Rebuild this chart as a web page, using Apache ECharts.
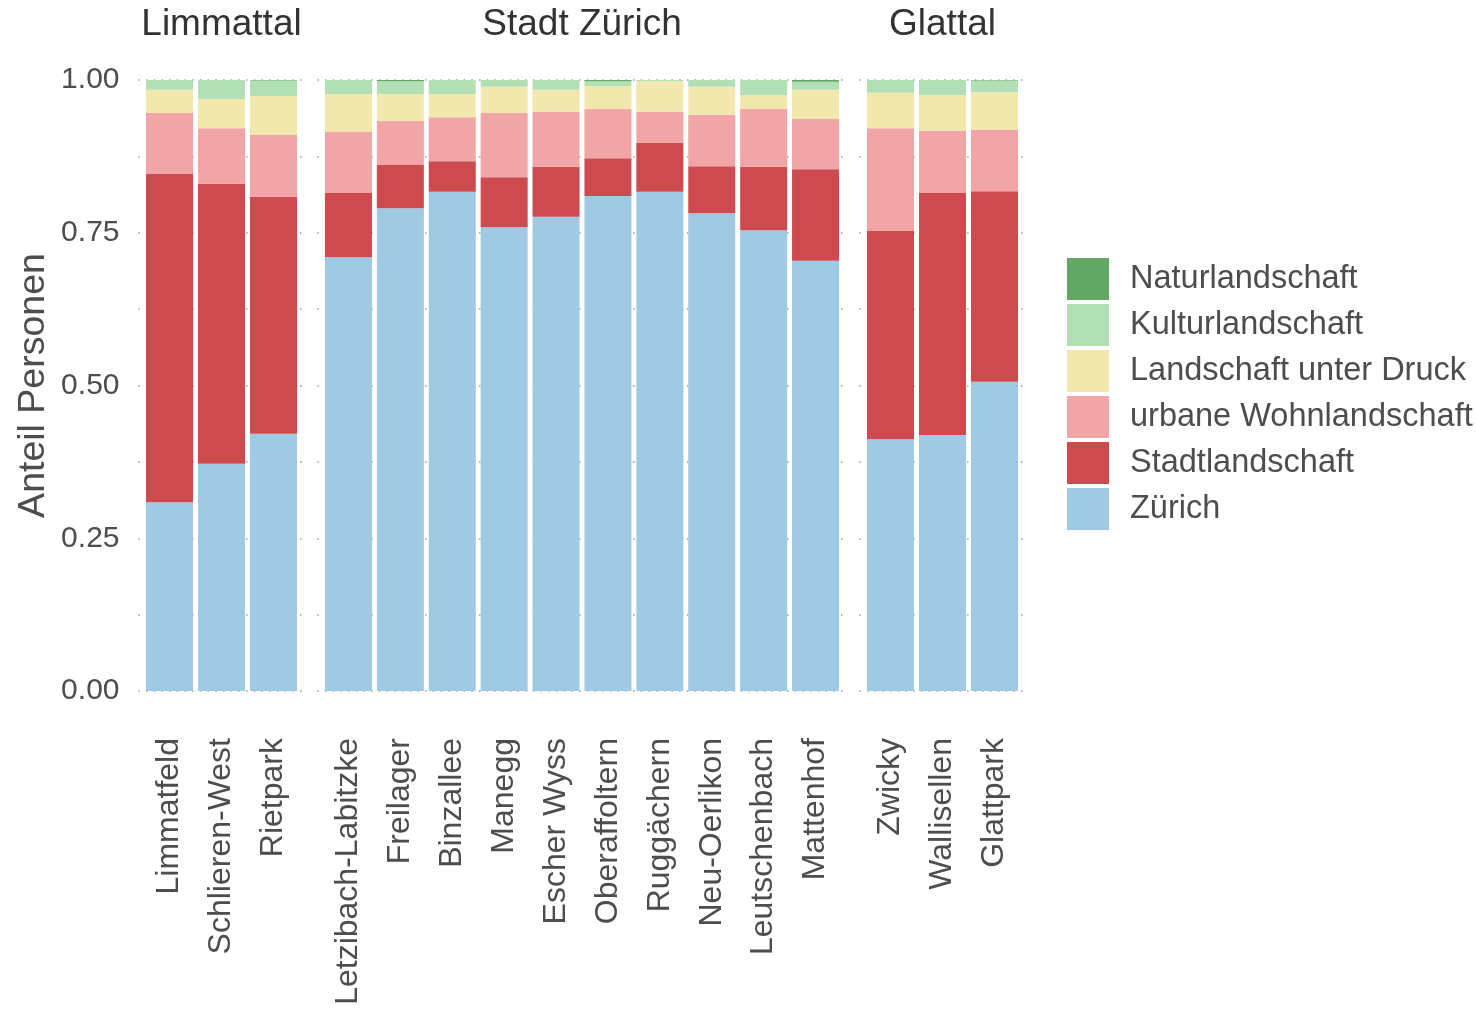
<!DOCTYPE html>
<html>
<head>
<meta charset="utf-8">
<script src="https://cdn.jsdelivr.net/npm/echarts@6/dist/echarts.min.js"></script>
<style>
  html, body { margin: 0; padding: 0; background: #fff; }
  #chart { width: 1476px; height: 1011px; }
</style>
</head>
<body>
<div id="chart"></div>
<script>
// Quartiere, in Reihenfolge der Panels
var quartiere = ['Limmatfeld', 'Schlieren-West', 'Rietpark',
  'Letzibach-Labitzke', 'Freilager', 'Binzallee', 'Manegg', 'Escher Wyss',
  'Oberaffoltern', 'Ruggächern', 'Neu-Oerlikon', 'Leutschenbach', 'Mattenhof',
  'Zwicky', 'Wallisellen', 'Glattpark'];
var regionen = ['Limmattal', 'Stadt Zürich', 'Glattal'];
var regionAnzahl = [3, 10, 3];

// Anteile pro Landschaftstyp (gestapelt, von unten nach oben)
var zuerich        = [0.309, 0.372, 0.421, 0.710, 0.790, 0.817, 0.759, 0.776, 0.810, 0.817, 0.782, 0.754, 0.704, 0.412, 0.419, 0.506];
var stadtlandschaft = [0.537, 0.458, 0.388, 0.105, 0.071, 0.050, 0.082, 0.082, 0.062, 0.080, 0.077, 0.104, 0.150, 0.341, 0.396, 0.312];
var urbaneWohn     = [0.100, 0.091, 0.101, 0.100, 0.072, 0.072, 0.105, 0.090, 0.081, 0.051, 0.084, 0.095, 0.082, 0.168, 0.102, 0.100];
var unterDruck     = [0.038, 0.048, 0.064, 0.062, 0.044, 0.038, 0.043, 0.036, 0.037, 0.050, 0.046, 0.022, 0.048, 0.058, 0.058, 0.062];
var kultur         = [0.016, 0.031, 0.025, 0.023, 0.021, 0.023, 0.011, 0.016, 0.008, 0.002, 0.011, 0.025, 0.013, 0.021, 0.025, 0.019];
var natur          = [0.000, 0.000, 0.001, 0.000, 0.002, 0.000, 0.000, 0.000, 0.002, 0.000, 0.000, 0.000, 0.003, 0.000, 0.000, 0.001];

var yTicks = [0, 0.25, 0.5, 0.75, 1];

var typen = [
  { name: 'Zürich', data: zuerich, color: '#a0cae3' },
  { name: 'Stadtlandschaft', data: stadtlandschaft, color: '#cd4a4f' },
  { name: 'urbane Wohnlandschaft', data: urbaneWohn, color: '#f2a5a7' },
  { name: 'Landschaft unter Druck', data: unterDruck, color: '#f2e8ad' },
  { name: 'Kulturlandschaft', data: kultur, color: '#b3dfb7' },
  { name: 'Naturlandschaft', data: natur, color: '#62a865' }
];

var chart = echarts.init(document.getElementById('chart'));
var font = 'Liberation Sans, Arial, sans-serif';
var grau = '#4d4d4d';

// Panel-Geometrie (Pixel)
var band = [52, 51.9, 52];
var barLeft = [143.5, 322.5, 864.5];
var gridTop = 80, gridHeight = 611;

var grids = [], xAxes = [], yAxes = [], series = [], graphics = [];
var start = 0;
for (let p = 0; p < 3; p++) {
  let n = regionAnzahl[p];
  let w = n * band[p];
  let pad = 0.1 * band[p];
  // Hintergrund-Grid nur fuer die gepunkteten Linien
  grids.push({ left: barLeft[p] - pad, width: w + 2 * pad, top: gridTop, height: gridHeight });
  xAxes.push({ type: 'value', gridIndex: 2 * p, min: 0, max: 1, show: false });
  yAxes.push({
    type: 'value', gridIndex: 2 * p, min: 0, max: 1, interval: 0.125,
    axisLine: { show: false }, axisTick: { show: false }, axisLabel: { show: false },
    splitLine: { lineStyle: { type: [1.5, 6.2], color: '#9a9a9a', width: 1.5 } }
  });
  // Balken-Grid
  grids.push({ left: barLeft[p], width: w, top: gridTop, height: gridHeight });
  xAxes.push({
    type: 'category', gridIndex: 2 * p + 1, data: quartiere.slice(start, start + n),
    axisLine: { show: false }, axisTick: { show: false },
    axisLabel: { rotate: 90, margin: 47, interval: 0, color: grau, fontSize: 32, fontFamily: font }
  });
  yAxes.push({
    type: 'value', gridIndex: 2 * p + 1, min: 0, max: 1, interval: 0.25,
    axisLine: { show: false }, axisTick: { show: false }, splitLine: { show: false },
    axisLabel: p === 0 ? {
      color: grau, fontSize: 30, fontFamily: font, margin: 24,
      formatter: function (v) { return yTicks.indexOf(v) >= 0 ? v.toFixed(2) : ''; }
    } : { show: false },
    name: p === 0 ? 'Anteil Personen' : '',
    nameLocation: 'middle', nameGap: 91, nameRotate: 90,
    nameTextStyle: { color: grau, fontSize: 37.5, fontFamily: font }
  });
  typen.forEach(function (t) {
    series.push({
      name: t.name, type: 'bar', stack: 'r' + p,
      xAxisIndex: 2 * p + 1, yAxisIndex: 2 * p + 1,
      barWidth: 47, data: t.data.slice(start, start + n),
      itemStyle: { color: t.color }, emphasis: { disabled: true }
    });
  });
  graphics.push({
    type: 'text', x: barLeft[p] + w / 2, y: 25,
    style: { text: regionen[p], fontSize: 37, fontFamily: font, fill: '#333',
      textAlign: 'center', textVerticalAlign: 'middle' }
  });
  start += n;
}

chart.setOption({
  animation: false,
  grid: grids,
  xAxis: xAxes,
  yAxis: yAxes,
  series: series,
  graphic: graphics,
  legend: {
    orient: 'vertical', left: 1062, top: 253,
    data: typen.map(function (t) { return t.name; }).reverse(),
    itemWidth: 42, itemHeight: 42, itemGap: 4, icon: 'rect',
    selectedMode: false,
    textStyle: { color: grau, fontSize: 32.5, fontFamily: font, padding: [6, 0, 0, 16] }
  }
});
</script>
</body>
</html>
